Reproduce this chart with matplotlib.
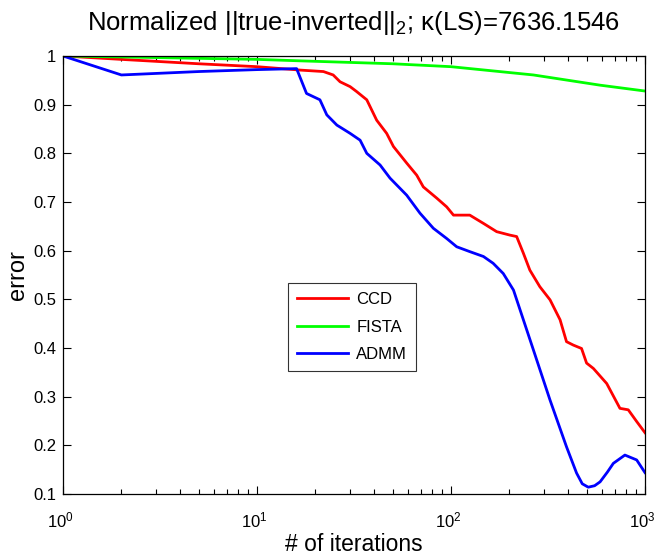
import numpy as np
import matplotlib
matplotlib.use("Agg")
import matplotlib.pyplot as plt
import matplotlib.transforms as mtransforms
from matplotlib.ticker import FixedLocator, FixedFormatter, LogLocator, NullFormatter

plt.rcParams['font.family'] = ['Liberation Sans', 'DejaVu Sans']
plt.rcParams['mathtext.fontset'] = 'custom'
plt.rcParams['mathtext.rm'] = 'Liberation Sans'
plt.rcParams['mathtext.it'] = 'Liberation Sans:italic'

ccd_x = [1, 2, 5, 10, 16.7, 22.0, 24.7, 26.8, 30.2, 32.6, 36.8, 41.4, 46.6, 50.5, 59.1, 66.6,
         72.0, 84.4, 95.0, 103, 125, 147, 172, 201, 218, 236, 255, 287, 324, 365, 394, 427,
         471, 500, 542, 635, 743, 820, 906, 1000]
ccd_y = [1.0, 0.993, 0.984, 0.978, 0.971, 0.968, 0.961, 0.947, 0.937, 0.927, 0.910, 0.868,
         0.841, 0.814, 0.780, 0.755, 0.731, 0.708, 0.690, 0.673, 0.673, 0.656, 0.639, 0.632,
         0.629, 0.595, 0.560, 0.526, 0.499, 0.458, 0.413, 0.406, 0.399, 0.369, 0.358, 0.327,
         0.276, 0.273, 0.249, 0.226]

fista_x = [1, 2, 10, 16.7, 50, 100, 266, 587, 1000]
fista_y = [1.0, 0.998, 0.993, 0.990, 0.984, 0.978, 0.961, 0.940, 0.928]

admm_x = [1, 2, 5, 10, 16.0, 18.0, 21.1, 22.9, 25.8, 30.2, 34.0, 36.8, 43.1, 48.5, 59.1,
          69.2, 81.1, 95.0, 107, 125, 147, 165, 186, 210, 266, 324, 394, 444, 475, 510, 550,
          587, 640, 687, 788, 906, 1000]
admm_y = [1.0, 0.961, 0.968, 0.972, 0.974, 0.923, 0.910, 0.879, 0.858, 0.841, 0.827, 0.800,
          0.776, 0.749, 0.714, 0.677, 0.646, 0.625, 0.608, 0.598, 0.588, 0.574, 0.553, 0.519,
          0.396, 0.293, 0.197, 0.143, 0.121, 0.114, 0.117, 0.125, 0.145, 0.163, 0.180, 0.170,
          0.144]

yticks = [0.1, 0.2, 0.3, 0.4, 0.5, 0.6, 0.7, 0.8, 0.9, 1.0]
ytick_labels = ['0.1', '0.2', '0.3', '0.4', '0.5', '0.6', '0.7', '0.8', '0.9', '1']

fig = plt.figure(figsize=(6.57, 5.57), dpi=100)
ax = fig.add_axes([0.0959, 0.1131, 0.8858, 0.7864])

lw = 2.0
ax.plot(ccd_x, ccd_y, color=(1, 0, 0), lw=lw, label='CCD')
ax.plot(fista_x, fista_y, color=(0, 1, 0), lw=lw, label='FISTA')
ax.plot(admm_x, admm_y, color=(0, 0, 1), lw=lw, label='ADMM')

ax.set_xscale('log')
ax.set_xlim(1, 1000)
ax.set_ylim(0.1, 1.0)
ax.yaxis.set_major_locator(FixedLocator(yticks))
ax.yaxis.set_major_formatter(FixedFormatter(ytick_labels))
ax.xaxis.set_major_locator(LogLocator(base=10, numticks=10))
ax.xaxis.set_minor_locator(LogLocator(base=10, subs=np.arange(2, 10), numticks=20))
ax.xaxis.set_minor_formatter(NullFormatter())

ax.tick_params(which='both', direction='in', top=True, right=True, labelsize=12, colors='black')
ax.tick_params(which='major', length=6, width=0.8)
ax.tick_params(which='minor', length=3.5, width=0.8)
ax.tick_params(axis='x', pad=12)
ax.tick_params(axis='y', pad=5)
for s in ax.spines.values():
    s.set_linewidth(0.9)

# nudge x tick labels slightly left so the last one stays inside the figure
offset = mtransforms.ScaledTranslation(-3 / 100, 0, fig.dpi_scale_trans)
for lab in ax.get_xticklabels():
    lab.set_transform(lab.get_transform() + offset)

ax.set_xlabel('# of iterations', fontsize=16.5, labelpad=2)
ax.set_ylabel('error', fontsize=17, labelpad=3)
ax.set_title(r'Normalized ||true-inverted||$_2$; κ(LS)=7636.1546', fontsize=18.5, pad=19)

leg = ax.legend(loc='upper left', bbox_to_anchor=((288 - 63) / 582, (494 - 283) / 438),
                fontsize=12, frameon=True, fancybox=False, edgecolor='black',
                handlelength=3.05, borderpad=0.55, labelspacing=0.75, handletextpad=0.5,
                borderaxespad=0)
leg.get_frame().set_linewidth(0.8)

fig.savefig('out.png', dpi=100)
